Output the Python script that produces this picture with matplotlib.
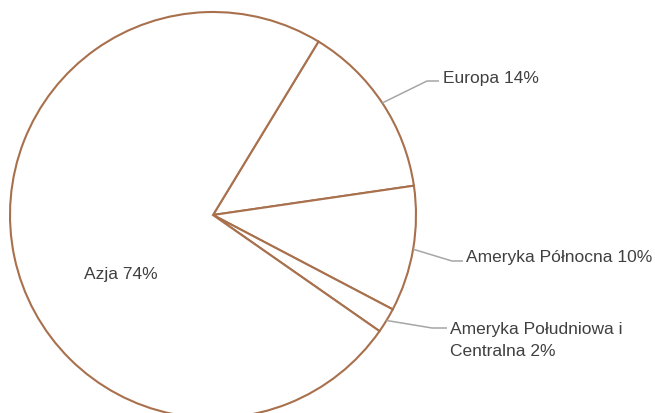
import numpy as np
import matplotlib
matplotlib.use("Agg")
import matplotlib.pyplot as plt

# Data
regions = ["Europa", "Ameryka Północna", "Ameryka Południowa i\nCentralna", "Azja"]
shares = [14, 10, 2, 74]

EDGE = "#a8704c"
LEADER = "#a6a6a6"
TEXT = "#404040"

plt.rcParams["font.family"] = ["Liberation Sans", "DejaVu Sans"]

fig = plt.figure(figsize=(6.55, 4.14), dpi=100)
ax = fig.add_axes([0, 0, 1, 1])

cx, cy, r = 213, 198, 203
start = 58.7
wedges, _ = ax.pie(shares, startangle=start, counterclock=False, center=(cx, cy),
                   radius=r, frame=True,
                   wedgeprops=dict(facecolor="white", edgecolor=EDGE, linewidth=1.5))
ax.set_xlim(0, 655)
ax.set_ylim(0, 414)
ax.set_aspect("equal")
ax.axis("off")

# label layout (pixels from top-left): elbow point, end of horizontal, text x, last baseline y
label_layout = [
    ((427, 82), 439, 443, 83),
    ((452, 262), 463, 466, 262),
    ((432, 329), 447, 450, 356),
]

for w, pct, name, (elbow, hend, tx, ty) in zip(wedges[:3], shares[:3], regions[:3], label_layout):
    mid = np.deg2rad((w.theta1 + w.theta2) / 2)
    px, py = cx + r * np.cos(mid), cy + r * np.sin(mid)
    ex, ey = elbow[0], 414 - elbow[1]
    ax.plot([px, ex, hend], [py, ey, ey], color=LEADER, lw=1.1, solid_capstyle="butt")
    ax.text(tx, 414 - ty, f"{name} {pct}%", ha="left", va="baseline", fontsize=12.5,
            color=TEXT, linespacing=1.55)

ax.text(84, 414 - 279, f"{regions[3]} {shares[3]}%", ha="left", va="baseline",
        fontsize=12.5, color=TEXT)

fig.savefig("out.png", dpi=100)
